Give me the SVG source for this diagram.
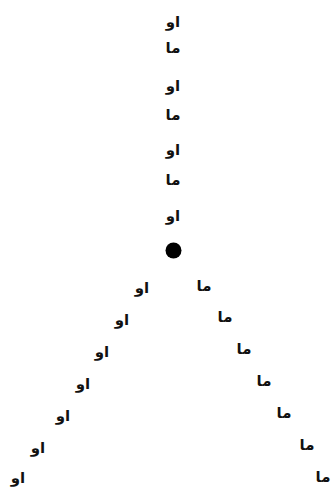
<svg xmlns="http://www.w3.org/2000/svg" width="331" height="488" viewBox="0 0 331 488">
<style>
.t{font-family:"DejaVu Sans",sans-serif;font-weight:bold;font-size:15px;fill:#111;text-anchor:middle;dominant-baseline:central}
</style>
<rect width="331" height="488" fill="#fff"/>
<g id="column">
<text class="t" x="173" y="22">او</text>
<text class="t" x="173" y="48">ما</text>
<text class="t" x="173" y="86">او</text>
<text class="t" x="173" y="115">ما</text>
<text class="t" x="173" y="150">او</text>
<text class="t" x="173" y="180">ما</text>
<text class="t" x="173" y="216">او</text>
</g>
<g id="dot"><circle cx="173.5" cy="250.5" r="8" fill="#000"/></g>
<g id="left-branch">
<text class="t" x="142" y="288">او</text>
<text class="t" x="122" y="320">او</text>
<text class="t" x="102" y="352">او</text>
<text class="t" x="83" y="384">او</text>
<text class="t" x="63" y="416">او</text>
<text class="t" x="38" y="448">او</text>
<text class="t" x="18" y="478">او</text>
</g>
<g id="right-branch">
<text class="t" x="204" y="286">ما</text>
<text class="t" x="225" y="317">ما</text>
<text class="t" x="244" y="349">ما</text>
<text class="t" x="264" y="381">ما</text>
<text class="t" x="284" y="413">ما</text>
<text class="t" x="307" y="445">ما</text>
<text class="t" x="323" y="477">ما</text>
</g>
</svg>
